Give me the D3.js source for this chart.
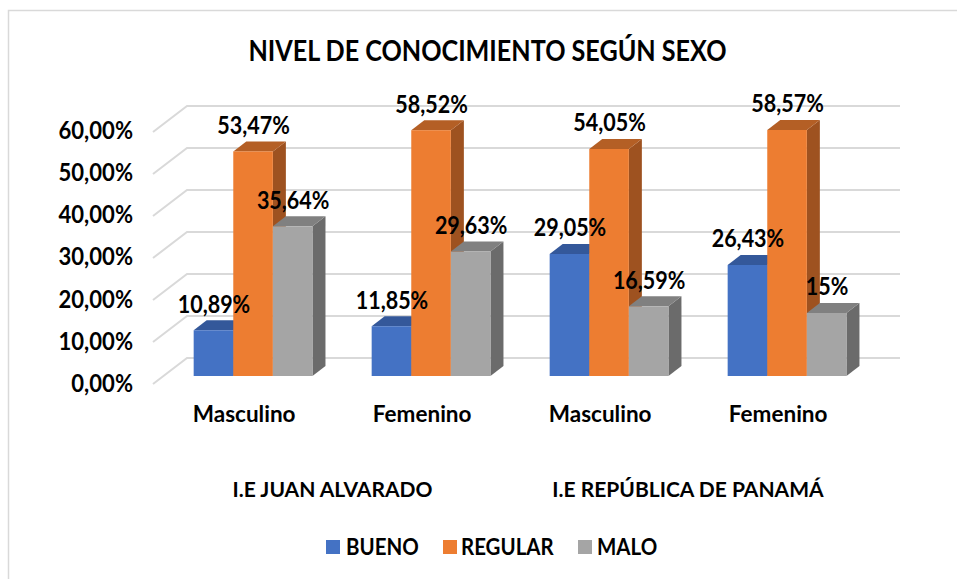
<!DOCTYPE html>
<html><head><meta charset="utf-8">
<script src="https://cdn.jsdelivr.net/npm/d3@7/dist/d3.min.js"></script>
<style>html,body{margin:0;background:#fff}svg{display:block}text{font-family:Lato,"Noto Sans",sans-serif;font-weight:700;fill:#000}</style>
</head><body><script>
const categories=["Masculino","Femenino","Masculino","Femenino"];
const groups=["I.E JUAN ALVARADO","I.E REPÚBLICA DE PANAMÁ"];
const seriesNames=["BUENO","REGULAR","MALO"];
const bueno=[10.89,11.85,29.05,26.43];
const regular=[53.47,58.52,54.05,58.57];
const malo=[35.64,29.63,16.59,15];
const labelsBueno=["10,89%","11,85%","29,05%","26,43%"];
const labelsRegular=["53,47%","58,52%","54,05%","58,57%"];
const labelsMalo=["35,64%","29,63%","16,59%","15%"];
const ticks=[0,10,20,30,40,50,60];
const colors=["#4472c4","#ed7d31","#a5a5a5"];
const sideColors=["#2f5597","#9e5220","#6b6b6b"];
const topColors=["#34589a","#b45f25","#808080"];
const title="NIVEL DE CONOCIMIENTO SEGÚN SEXO";

const svg=d3.select("body").append("svg").attr("width",957).attr("height",579);
function put(parent,str,px,py,size,f,anchor){
  const t=parent.append("text").text(str).attr("x",px).attr("y",py).attr("font-size",size).attr("text-anchor",anchor||"middle");
  t.attr("textLength",t.node().getComputedTextLength()*f).attr("lengthAdjust","spacingAndGlyphs");
  return t;
}
svg.append("path").attr("d","M8.5,579V10.5H957").attr("fill","none").attr("stroke","#d9d9d9").attr("stroke-width",1.5);
put(svg,title,487.5,61,28,0.898);

const y=d3.scaleLinear().domain([0,60]).range([384,132]);
const yLabel=d3.scaleLinear().domain([0,60]).range([392,138.5]);
const x=d3.scaleBand().domain(d3.range(4)).range([164,876]).paddingInner(0.3333).paddingOuter(0.1667);
const wx=d3.scaleBand().domain(d3.range(3)).range([0,118.8]);
const gx0=153,back=[34,-26],barOff=-8,dep=[13,-10];

const g=svg.append("g");
ticks.forEach(t=>{
  g.append("path").attr("d",`M${gx0},${y(t)}L${gx0+back[0]},${y(t)+back[1]}H900`)
   .attr("fill","none").attr("stroke","#d9d9d9").attr("stroke-width",2);
  put(svg,d3.format(".2f")(t).replace(".",",")+"%",133,yLabel(t),24,0.92,"end");
});
const series=[bueno,regular,malo];
const labels=[labelsBueno,labelsRegular,labelsMalo];
categories.forEach((c,i)=>{
  const X=x(i);
  const bars=svg.append("g");
  series.forEach((s,k)=>{
    const x0=X+wx(k),w=wx.bandwidth(),b=y(0)+barOff,t=y(s[i])+barOff;
    bars.append("path").attr("fill",sideColors[k]).attr("d",`M${x0+w},${b}V${t}l${dep[0]},${dep[1]}V${b+dep[1]}z`);
    bars.append("path").attr("fill",topColors[k]).attr("d",`M${x0},${t}l${dep[0]},${dep[1]}h${w}l${-dep[0]},${-dep[1]}z`);
  });
  series.forEach((s,k)=>{
    const x0=X+wx(k),w=wx.bandwidth(),b=y(0)+barOff,t=y(s[i])+barOff;
    bars.append("rect").attr("x",x0).attr("y",t).attr("width",w).attr("height",b-t).attr("fill",colors[k]);
  });
  put(svg,c,X+50.5,422,22.5,1);
});
categories.forEach((c,i)=>series.forEach((s,k)=>{
  put(svg,labels[k][i],x(i)+wx(k)+wx.bandwidth()/2+0.5,y(s[i])+barOff-17.7,24,0.896);
}));
put(svg,groups[0],332.5,497,21,1);
put(svg,groups[1],688,497,21,1);
const legX=[326,443,578],legT=[346,461,597];
seriesNames.forEach((n,k)=>{
  svg.append("rect").attr("x",legX[k]).attr("y",540).attr("width",14).attr("height",14).attr("fill",colors[k]);
  put(svg,n,legT[k],554.5,22,0.93,"start");
});
</script></body></html>
